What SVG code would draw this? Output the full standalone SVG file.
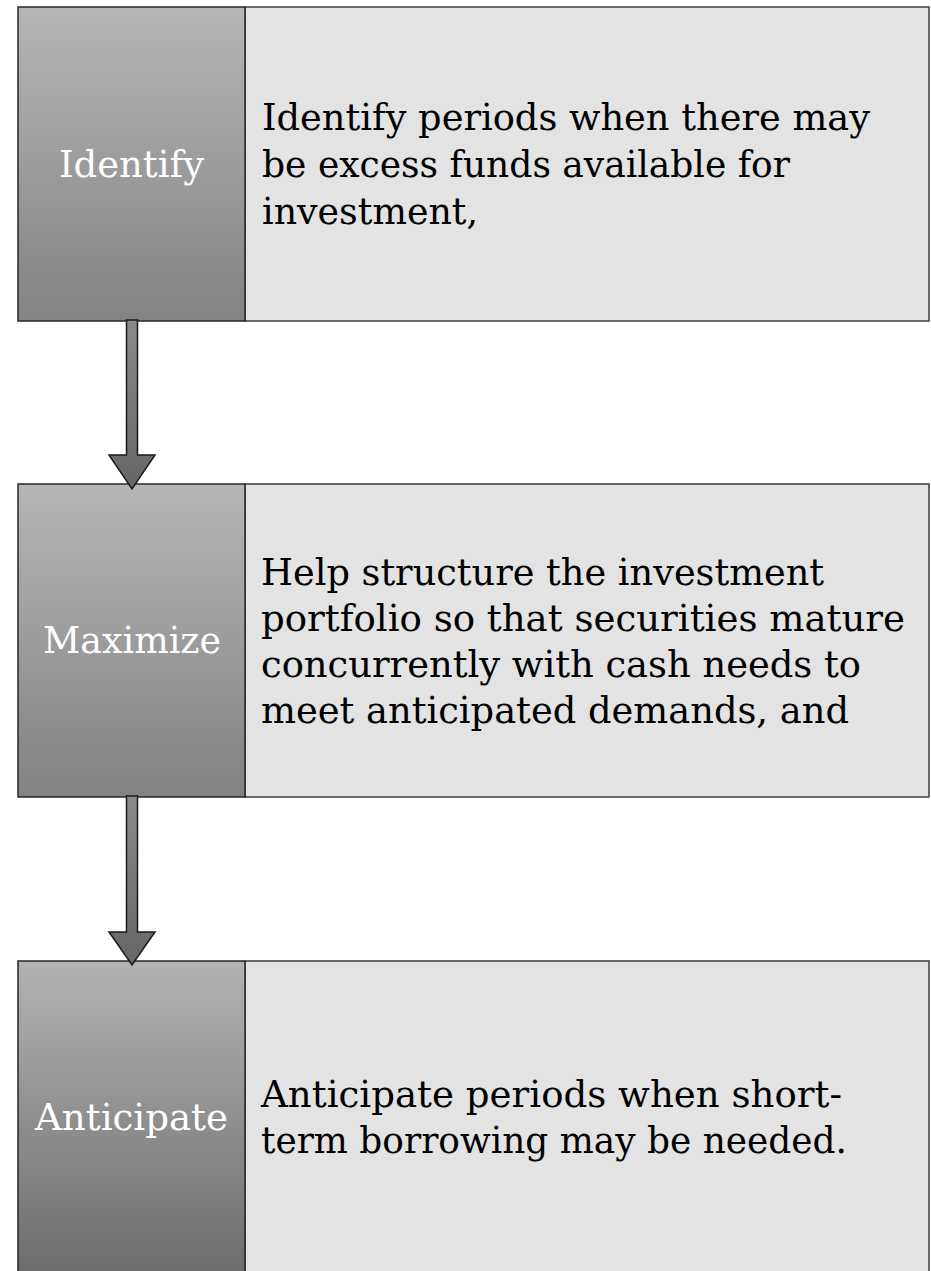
<svg xmlns="http://www.w3.org/2000/svg" width="931" height="1271" viewBox="0 0 931 1271">
  <style>
    .tab { stroke: #262626; stroke-width: 1.5; }
    .panel { fill: #e3e3e3; stroke: #3c3c3c; stroke-width: 1.5; }
    .label { font-family: "DejaVu Serif", "Liberation Serif", serif; font-size: 37px; fill: #ffffff; }
    .body { font-family: "DejaVu Serif", "Liberation Serif", serif; font-size: 37px; fill: #000000; }
    .arrow { fill: url(#arrowFill); stroke: #1a1a1a; stroke-width: 1.5; stroke-linejoin: miter; }
  </style>
  <defs>
    <linearGradient id="tabFill1" x1="0" y1="0" x2="0" y2="1">
      <stop offset="0" stop-color="#b6b6b6"/>
      <stop offset="1" stop-color="#838383"/>
    </linearGradient>
    <linearGradient id="tabFill2" x1="0" y1="0" x2="0" y2="1">
      <stop offset="0" stop-color="#b6b6b6"/>
      <stop offset="1" stop-color="#828282"/>
    </linearGradient>
    <linearGradient id="tabFill3" x1="0" y1="0" x2="0" y2="1">
      <stop offset="0" stop-color="#b3b3b3"/>
      <stop offset="1" stop-color="#6c6c6c"/>
    </linearGradient>
    <linearGradient id="arrowFill" x1="0" y1="0" x2="0" y2="1">
      <stop offset="0" stop-color="#8a8a8a"/>
      <stop offset="1" stop-color="#666666"/>
    </linearGradient>
  </defs>

  <!-- step 1 -->
  <g id="step-identify">
    <rect class="panel" x="245" y="7" width="684" height="314"/>
    <rect class="tab" x="18" y="7" width="227" height="314" fill="url(#tabFill1)"/>
    <text class="label" x="59" y="177" textLength="145" lengthAdjust="spacingAndGlyphs">Identify</text>
    <text class="body" x="262" y="130" textLength="608" lengthAdjust="spacingAndGlyphs">Identify periods when there may</text>
    <text class="body" x="262" y="177" textLength="528" lengthAdjust="spacingAndGlyphs">be excess funds available for</text>
    <text class="body" x="262" y="224" textLength="216" lengthAdjust="spacingAndGlyphs">investment,</text>
  </g>

  <!-- step 2 -->
  <g id="step-maximize">
    <rect class="panel" x="245" y="484" width="684" height="313"/>
    <rect class="tab" x="18" y="484" width="227" height="313" fill="url(#tabFill2)"/>
    <text class="label" x="43" y="653" textLength="178" lengthAdjust="spacingAndGlyphs">Maximize</text>
    <text class="body" x="261" y="585" textLength="563" lengthAdjust="spacingAndGlyphs">Help structure the investment</text>
    <text class="body" x="261" y="631" textLength="644" lengthAdjust="spacingAndGlyphs">portfolio so that securities mature</text>
    <text class="body" x="261" y="677" textLength="600" lengthAdjust="spacingAndGlyphs">concurrently with cash needs to</text>
    <text class="body" x="261" y="723" textLength="588" lengthAdjust="spacingAndGlyphs">meet anticipated demands, and</text>
  </g>

  <!-- step 3 -->
  <g id="step-anticipate">
    <rect class="panel" x="245" y="961" width="684" height="314"/>
    <rect class="tab" x="18" y="961" width="227" height="314" fill="url(#tabFill3)"/>
    <text class="label" x="35" y="1130" textLength="193" lengthAdjust="spacingAndGlyphs">Anticipate</text>
    <text class="body" x="261" y="1107" textLength="581" lengthAdjust="spacingAndGlyphs">Anticipate periods when short-</text>
    <text class="body" x="261" y="1153" textLength="586" lengthAdjust="spacingAndGlyphs">term borrowing may be needed.</text>
  </g>

  <!-- down arrows between steps -->
  <g id="connectors">
    <path class="arrow" d="M126.5 320 H137.5 V455 H155 L132 489 L109 455 H126.5 Z"/>
    <path class="arrow" d="M126.5 796 H137.5 V932 H155 L132 965 L109 932 H126.5 Z"/>
  </g>
</svg>
